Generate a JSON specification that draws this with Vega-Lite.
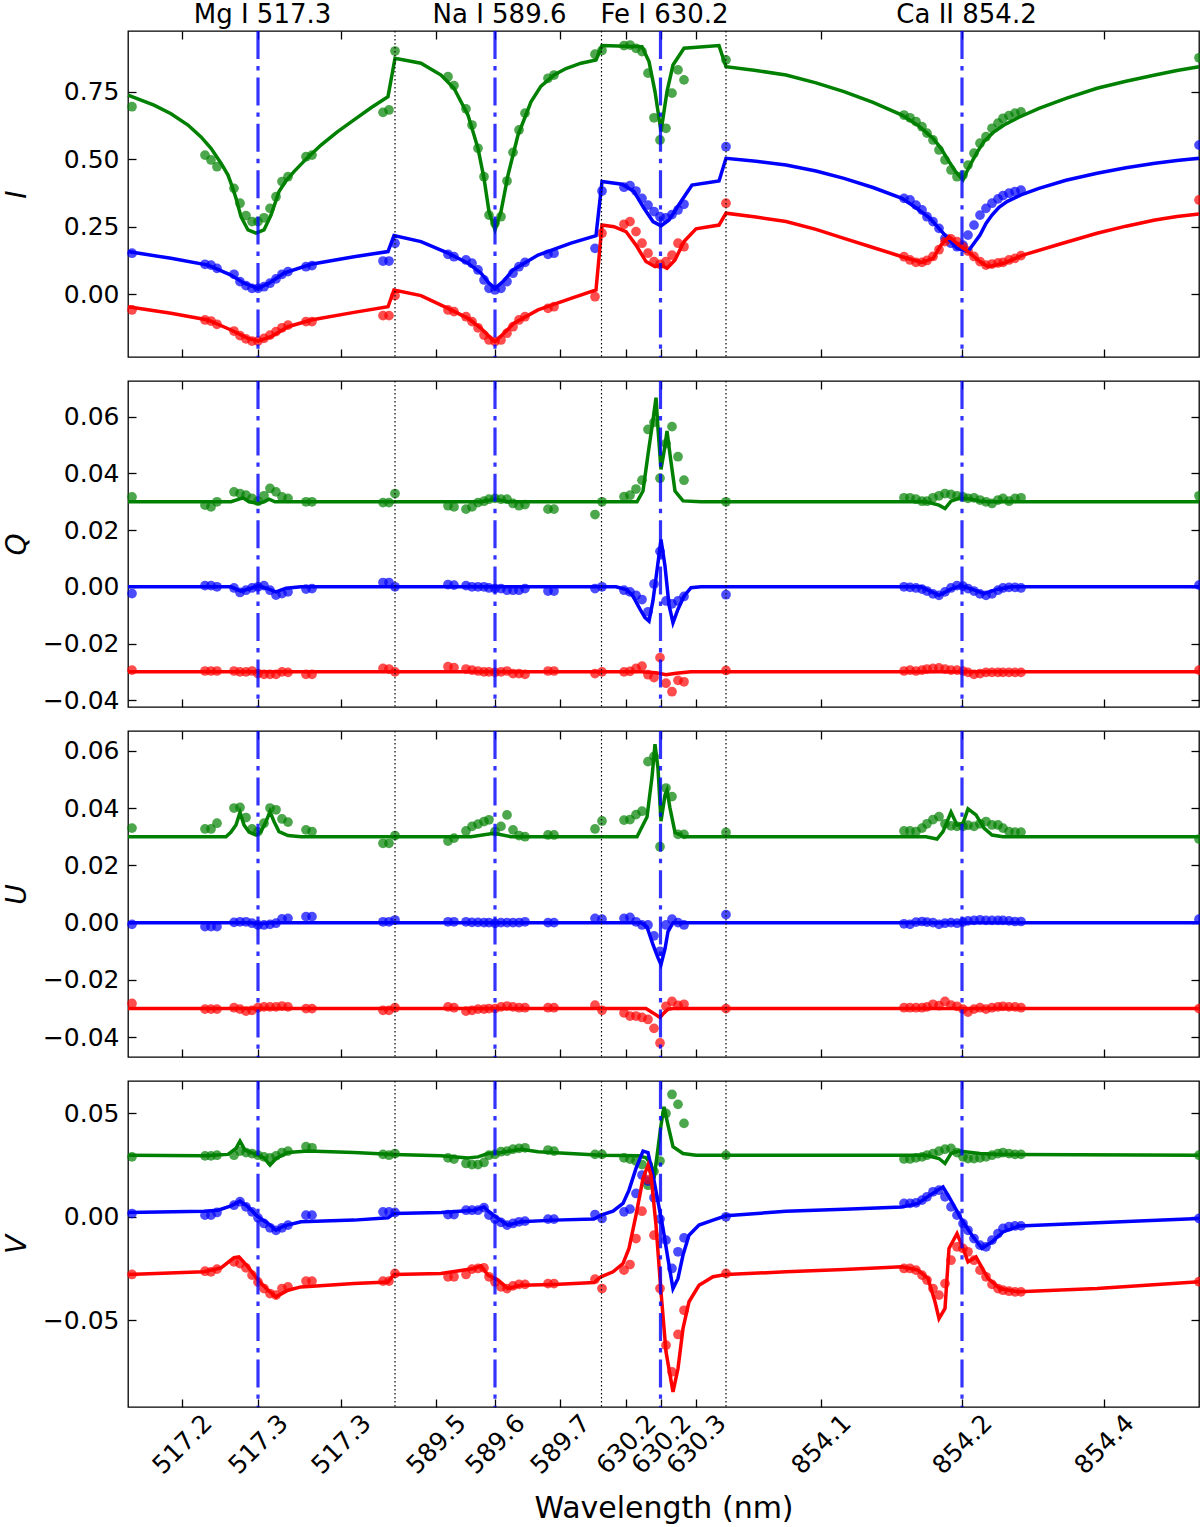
{
"$schema":"https://vega.github.io/schema/vega-lite/v6.json",
"padding":{"left":2,"top":0,"right":0,"bottom":0},
"bounds":"flush",
"spacing":24,
"config":{
 "view":{"stroke":"#000000","strokeWidth":1.3},
 "font":"DejaVu Sans",
 "axis":{"grid":false,"domain":false,"tickColor":"#000000","tickWidth":1.3,"tickSize":-8,"labelFont":"DejaVu Sans","labelFontSize":25,"labelColor":"#000000","titleFont":"DejaVu Sans","titleFontSize":30,"titleFontWeight":"normal","titleColor":"#000000","labelFlush":false,"labelOverlap":false,"labelBound":false}
},
"datasets":{
"obs":[
{"s":"I","c":"g","x":131,"v":0.694},{"s":"I","c":"g","x":204,"v":0.515},{"s":"I","c":"g","x":210,"v":0.497},{"s":"I","c":"g","x":216,"v":0.472},{"s":"I","c":"g","x":233,"v":0.392},{"s":"I","c":"g","x":239,"v":0.337},{"s":"I","c":"g","x":245,"v":0.291},{"s":"I","c":"g","x":251,"v":0.269},{"s":"I","c":"g","x":257,"v":0.269},{"s":"I","c":"g","x":263,"v":0.283},{"s":"I","c":"g","x":269,"v":0.318},{"s":"I","c":"g","x":275,"v":0.361},{"s":"I","c":"g","x":281,"v":0.417},{"s":"I","c":"g","x":287,"v":0.435},{"s":"I","c":"g","x":305,"v":0.509},{"s":"I","c":"g","x":311,"v":0.515},{"s":"I","c":"g","x":382,"v":0.673},{"s":"I","c":"g","x":388,"v":0.682},
{"s":"I","c":"g","x":394,"v":0.900},{"s":"I","c":"g","x":447,"v":0.805},{"s":"I","c":"g","x":453,"v":0.772},{"s":"I","c":"g","x":465,"v":0.686},{"s":"I","c":"g","x":471,"v":0.626},{"s":"I","c":"g","x":477,"v":0.540},{"s":"I","c":"g","x":483,"v":0.435},{"s":"I","c":"g","x":488,"v":0.293},{"s":"I","c":"g","x":494,"v":0.263},{"s":"I","c":"g","x":500,"v":0.287},{"s":"I","c":"g","x":506,"v":0.419},{"s":"I","c":"g","x":512,"v":0.525},{"s":"I","c":"g","x":518,"v":0.608},{"s":"I","c":"g","x":524,"v":0.670},{"s":"I","c":"g","x":547,"v":0.799},{"s":"I","c":"g","x":553,"v":0.811},{"s":"I","c":"g","x":594,"v":0.888},
{"s":"I","c":"g","x":601,"v":0.902},{"s":"I","c":"g","x":623,"v":0.920},{"s":"I","c":"g","x":629,"v":0.922},{"s":"I","c":"g","x":635,"v":0.910},{"s":"I","c":"g","x":641,"v":0.898},{"s":"I","c":"g","x":647,"v":0.818},{"s":"I","c":"g","x":653,"v":0.653},{"s":"I","c":"g","x":659,"v":0.571},{"s":"I","c":"g","x":665,"v":0.614},{"s":"I","c":"g","x":671,"v":0.744},{"s":"I","c":"g","x":677,"v":0.830},{"s":"I","c":"g","x":683,"v":0.793},
{"s":"I","c":"g","x":725,"v":0.867},{"s":"I","c":"g","x":903,"v":0.663},{"s":"I","c":"g","x":909,"v":0.653},{"s":"I","c":"g","x":915,"v":0.639},{"s":"I","c":"g","x":921,"v":0.620},{"s":"I","c":"g","x":926,"v":0.596},{"s":"I","c":"g","x":932,"v":0.571},{"s":"I","c":"g","x":938,"v":0.534},{"s":"I","c":"g","x":944,"v":0.497},{"s":"I","c":"g","x":950,"v":0.460},{"s":"I","c":"g","x":956,"v":0.435},{"s":"I","c":"g","x":962,"v":0.441},{"s":"I","c":"g","x":967,"v":0.478},{"s":"I","c":"g","x":973,"v":0.522},{"s":"I","c":"g","x":979,"v":0.559},{"s":"I","c":"g","x":985,"v":0.583},{"s":"I","c":"g","x":991,"v":0.614},{"s":"I","c":"g","x":997,"v":0.633},{"s":"I","c":"g","x":1002,"v":0.651},{"s":"I","c":"g","x":1008,"v":0.661},{"s":"I","c":"g","x":1014,"v":0.670},{"s":"I","c":"g","x":1020,"v":0.675},{"s":"I","c":"g","x":1198,"v":0.875},
{"s":"I","c":"b","x":131,"v":0.152},{"s":"I","c":"b","x":204,"v":0.111},{"s":"I","c":"b","x":210,"v":0.108},{"s":"I","c":"b","x":216,"v":0.096},{"s":"I","c":"b","x":233,"v":0.074},{"s":"I","c":"b","x":239,"v":0.047},{"s":"I","c":"b","x":245,"v":0.032},{"s":"I","c":"b","x":251,"v":0.022},{"s":"I","c":"b","x":257,"v":0.022},{"s":"I","c":"b","x":263,"v":0.028},{"s":"I","c":"b","x":269,"v":0.041},{"s":"I","c":"b","x":275,"v":0.057},{"s":"I","c":"b","x":281,"v":0.074},{"s":"I","c":"b","x":287,"v":0.084},{"s":"I","c":"b","x":305,"v":0.102},{"s":"I","c":"b","x":311,"v":0.106},{"s":"I","c":"b","x":382,"v":0.123},{"s":"I","c":"b","x":388,"v":0.123},
{"s":"I","c":"b","x":394,"v":0.189},{"s":"I","c":"b","x":447,"v":0.148},{"s":"I","c":"b","x":453,"v":0.139},{"s":"I","c":"b","x":465,"v":0.127},{"s":"I","c":"b","x":471,"v":0.115},{"s":"I","c":"b","x":477,"v":0.090},{"s":"I","c":"b","x":483,"v":0.053},{"s":"I","c":"b","x":488,"v":0.022},{"s":"I","c":"b","x":494,"v":0.016},{"s":"I","c":"b","x":500,"v":0.022},{"s":"I","c":"b","x":506,"v":0.047},{"s":"I","c":"b","x":512,"v":0.078},{"s":"I","c":"b","x":518,"v":0.102},{"s":"I","c":"b","x":524,"v":0.118},{"s":"I","c":"b","x":547,"v":0.148},{"s":"I","c":"b","x":553,"v":0.152},{"s":"I","c":"b","x":594,"v":0.170},
{"s":"I","c":"b","x":601,"v":0.382},{"s":"I","c":"b","x":623,"v":0.396},{"s":"I","c":"b","x":629,"v":0.402},{"s":"I","c":"b","x":635,"v":0.382},{"s":"I","c":"b","x":641,"v":0.355},{"s":"I","c":"b","x":647,"v":0.330},{"s":"I","c":"b","x":653,"v":0.306},{"s":"I","c":"b","x":659,"v":0.287},{"s":"I","c":"b","x":665,"v":0.283},{"s":"I","c":"b","x":671,"v":0.295},{"s":"I","c":"b","x":677,"v":0.312},{"s":"I","c":"b","x":683,"v":0.333},
{"s":"I","c":"b","x":725,"v":0.546},{"s":"I","c":"b","x":903,"v":0.355},{"s":"I","c":"b","x":909,"v":0.349},{"s":"I","c":"b","x":915,"v":0.330},{"s":"I","c":"b","x":921,"v":0.312},{"s":"I","c":"b","x":926,"v":0.287},{"s":"I","c":"b","x":932,"v":0.269},{"s":"I","c":"b","x":938,"v":0.244},{"s":"I","c":"b","x":944,"v":0.207},{"s":"I","c":"b","x":950,"v":0.189},{"s":"I","c":"b","x":956,"v":0.176},{"s":"I","c":"b","x":962,"v":0.182},{"s":"I","c":"b","x":967,"v":0.219},{"s":"I","c":"b","x":973,"v":0.256},{"s":"I","c":"b","x":979,"v":0.293},{"s":"I","c":"b","x":985,"v":0.318},{"s":"I","c":"b","x":991,"v":0.337},{"s":"I","c":"b","x":997,"v":0.353},{"s":"I","c":"b","x":1002,"v":0.365},{"s":"I","c":"b","x":1008,"v":0.374},{"s":"I","c":"b","x":1014,"v":0.380},{"s":"I","c":"b","x":1020,"v":0.385},{"s":"I","c":"b","x":1198,"v":0.552},
{"s":"I","c":"r","x":131,"v":-0.058},{"s":"I","c":"r","x":204,"v":-0.095},{"s":"I","c":"r","x":210,"v":-0.099},{"s":"I","c":"r","x":216,"v":-0.111},{"s":"I","c":"r","x":233,"v":-0.136},{"s":"I","c":"r","x":239,"v":-0.153},{"s":"I","c":"r","x":245,"v":-0.165},{"s":"I","c":"r","x":251,"v":-0.173},{"s":"I","c":"r","x":257,"v":-0.173},{"s":"I","c":"r","x":263,"v":-0.163},{"s":"I","c":"r","x":269,"v":-0.151},{"s":"I","c":"r","x":275,"v":-0.138},{"s":"I","c":"r","x":281,"v":-0.124},{"s":"I","c":"r","x":287,"v":-0.114},{"s":"I","c":"r","x":305,"v":-0.101},{"s":"I","c":"r","x":311,"v":-0.101},{"s":"I","c":"r","x":382,"v":-0.079},{"s":"I","c":"r","x":388,"v":-0.079},
{"s":"I","c":"r","x":394,"v":-0.005},{"s":"I","c":"r","x":447,"v":-0.058},{"s":"I","c":"r","x":453,"v":-0.064},{"s":"I","c":"r","x":465,"v":-0.083},{"s":"I","c":"r","x":471,"v":-0.101},{"s":"I","c":"r","x":477,"v":-0.124},{"s":"I","c":"r","x":483,"v":-0.151},{"s":"I","c":"r","x":488,"v":-0.169},{"s":"I","c":"r","x":494,"v":-0.175},{"s":"I","c":"r","x":500,"v":-0.169},{"s":"I","c":"r","x":506,"v":-0.144},{"s":"I","c":"r","x":512,"v":-0.120},{"s":"I","c":"r","x":518,"v":-0.095},{"s":"I","c":"r","x":524,"v":-0.083},{"s":"I","c":"r","x":547,"v":-0.052},{"s":"I","c":"r","x":553,"v":-0.046},{"s":"I","c":"r","x":594,"v":-0.009},
{"s":"I","c":"r","x":601,"v":0.226},{"s":"I","c":"r","x":623,"v":0.259},{"s":"I","c":"r","x":629,"v":0.269},{"s":"I","c":"r","x":635,"v":0.232},{"s":"I","c":"r","x":641,"v":0.189},{"s":"I","c":"r","x":647,"v":0.152},{"s":"I","c":"r","x":653,"v":0.121},{"s":"I","c":"r","x":659,"v":0.111},{"s":"I","c":"r","x":665,"v":0.121},{"s":"I","c":"r","x":671,"v":0.145},{"s":"I","c":"r","x":677,"v":0.189},{"s":"I","c":"r","x":683,"v":0.176},
{"s":"I","c":"r","x":725,"v":0.337},{"s":"I","c":"r","x":903,"v":0.139},{"s":"I","c":"r","x":909,"v":0.127},{"s":"I","c":"r","x":915,"v":0.118},{"s":"I","c":"r","x":921,"v":0.118},{"s":"I","c":"r","x":926,"v":0.125},{"s":"I","c":"r","x":932,"v":0.140},{"s":"I","c":"r","x":938,"v":0.165},{"s":"I","c":"r","x":944,"v":0.195},{"s":"I","c":"r","x":950,"v":0.205},{"s":"I","c":"r","x":956,"v":0.195},{"s":"I","c":"r","x":962,"v":0.175},{"s":"I","c":"r","x":967,"v":0.160},{"s":"I","c":"r","x":973,"v":0.140},{"s":"I","c":"r","x":979,"v":0.121},{"s":"I","c":"r","x":985,"v":0.108},{"s":"I","c":"r","x":991,"v":0.112},{"s":"I","c":"r","x":997,"v":0.116},{"s":"I","c":"r","x":1002,"v":0.118},{"s":"I","c":"r","x":1008,"v":0.127},{"s":"I","c":"r","x":1014,"v":0.133},{"s":"I","c":"r","x":1020,"v":0.143},{"s":"I","c":"r","x":1198,"v":0.349},

{"s":"Q","c":"g","x":131,"v":0.0317},{"s":"Q","c":"g","x":204,"v":0.0288},{"s":"Q","c":"g","x":210,"v":0.0282},{"s":"Q","c":"g","x":216,"v":0.0300},{"s":"Q","c":"g","x":233,"v":0.0335},{"s":"Q","c":"g","x":239,"v":0.0329},{"s":"Q","c":"g","x":245,"v":0.0323},{"s":"Q","c":"g","x":251,"v":0.0312},{"s":"Q","c":"g","x":257,"v":0.0302},{"s":"Q","c":"g","x":263,"v":0.0321},{"s":"Q","c":"g","x":269,"v":0.0347},{"s":"Q","c":"g","x":275,"v":0.0335},{"s":"Q","c":"g","x":281,"v":0.0317},{"s":"Q","c":"g","x":287,"v":0.0312},{"s":"Q","c":"g","x":305,"v":0.0300},{"s":"Q","c":"g","x":311,"v":0.0300},{"s":"Q","c":"g","x":382,"v":0.0297},{"s":"Q","c":"g","x":388,"v":0.0297},
{"s":"Q","c":"g","x":394,"v":0.0329},{"s":"Q","c":"g","x":447,"v":0.0286},{"s":"Q","c":"g","x":453,"v":0.0282},{"s":"Q","c":"g","x":465,"v":0.0274},{"s":"Q","c":"g","x":471,"v":0.0282},{"s":"Q","c":"g","x":477,"v":0.0297},{"s":"Q","c":"g","x":483,"v":0.0302},{"s":"Q","c":"g","x":488,"v":0.0309},{"s":"Q","c":"g","x":494,"v":0.0312},{"s":"Q","c":"g","x":500,"v":0.0309},{"s":"Q","c":"g","x":506,"v":0.0309},{"s":"Q","c":"g","x":512,"v":0.0294},{"s":"Q","c":"g","x":518,"v":0.0286},{"s":"Q","c":"g","x":524,"v":0.0290},{"s":"Q","c":"g","x":547,"v":0.0274},{"s":"Q","c":"g","x":553,"v":0.0274},{"s":"Q","c":"g","x":594,"v":0.0255},
{"s":"Q","c":"g","x":601,"v":0.0300},{"s":"Q","c":"g","x":623,"v":0.0318},{"s":"Q","c":"g","x":629,"v":0.0323},{"s":"Q","c":"g","x":635,"v":0.0345},{"s":"Q","c":"g","x":641,"v":0.0376},{"s":"Q","c":"g","x":647,"v":0.0555},{"s":"Q","c":"g","x":653,"v":0.0580},{"s":"Q","c":"g","x":659,"v":0.0383},{"s":"Q","c":"g","x":665,"v":0.0505},{"s":"Q","c":"g","x":671,"v":0.0565},{"s":"Q","c":"g","x":677,"v":0.0459},{"s":"Q","c":"g","x":683,"v":0.0376},
{"s":"Q","c":"g","x":725,"v":0.0300},{"s":"Q","c":"g","x":903,"v":0.0314},{"s":"Q","c":"g","x":909,"v":0.0314},{"s":"Q","c":"g","x":915,"v":0.0309},{"s":"Q","c":"g","x":921,"v":0.0302},{"s":"Q","c":"g","x":926,"v":0.0302},{"s":"Q","c":"g","x":932,"v":0.0314},{"s":"Q","c":"g","x":938,"v":0.0321},{"s":"Q","c":"g","x":944,"v":0.0329},{"s":"Q","c":"g","x":950,"v":0.0326},{"s":"Q","c":"g","x":956,"v":0.0321},{"s":"Q","c":"g","x":962,"v":0.0317},{"s":"Q","c":"g","x":967,"v":0.0312},{"s":"Q","c":"g","x":973,"v":0.0314},{"s":"Q","c":"g","x":979,"v":0.0306},{"s":"Q","c":"g","x":985,"v":0.0300},{"s":"Q","c":"g","x":991,"v":0.0294},{"s":"Q","c":"g","x":997,"v":0.0306},{"s":"Q","c":"g","x":1002,"v":0.0312},{"s":"Q","c":"g","x":1008,"v":0.0302},{"s":"Q","c":"g","x":1014,"v":0.0312},{"s":"Q","c":"g","x":1020,"v":0.0314},{"s":"Q","c":"g","x":1198,"v":0.0321},
{"s":"Q","c":"b","x":131,"v":-0.0024},{"s":"Q","c":"b","x":204,"v":0.0004},{"s":"Q","c":"b","x":210,"v":0.0004},{"s":"Q","c":"b","x":216,"v":0.0},{"s":"Q","c":"b","x":233,"v":-0.0004},{"s":"Q","c":"b","x":239,"v":-0.0020},{"s":"Q","c":"b","x":245,"v":-0.0012},{"s":"Q","c":"b","x":251,"v":-0.0004},{"s":"Q","c":"b","x":257,"v":0.0},{"s":"Q","c":"b","x":263,"v":0.0004},{"s":"Q","c":"b","x":269,"v":-0.0012},{"s":"Q","c":"b","x":275,"v":-0.0029},{"s":"Q","c":"b","x":281,"v":-0.0024},{"s":"Q","c":"b","x":287,"v":-0.0018},{"s":"Q","c":"b","x":305,"v":-0.0008},{"s":"Q","c":"b","x":311,"v":-0.0006},{"s":"Q","c":"b","x":382,"v":0.0015},{"s":"Q","c":"b","x":388,"v":0.0015},
{"s":"Q","c":"b","x":394,"v":0.0},{"s":"Q","c":"b","x":447,"v":0.0008},{"s":"Q","c":"b","x":453,"v":0.0006},{"s":"Q","c":"b","x":465,"v":0.0004},{"s":"Q","c":"b","x":471,"v":0.0},{"s":"Q","c":"b","x":477,"v":0.0},{"s":"Q","c":"b","x":483,"v":0.0},{"s":"Q","c":"b","x":488,"v":-0.0004},{"s":"Q","c":"b","x":494,"v":-0.0006},{"s":"Q","c":"b","x":500,"v":-0.0006},{"s":"Q","c":"b","x":506,"v":-0.0012},{"s":"Q","c":"b","x":512,"v":-0.0012},{"s":"Q","c":"b","x":518,"v":-0.0012},{"s":"Q","c":"b","x":524,"v":-0.0006},{"s":"Q","c":"b","x":547,"v":-0.0015},{"s":"Q","c":"b","x":553,"v":-0.0015},{"s":"Q","c":"b","x":594,"v":-0.0006},
{"s":"Q","c":"b","x":601,"v":0.0},{"s":"Q","c":"b","x":623,"v":-0.0012},{"s":"Q","c":"b","x":629,"v":-0.0018},{"s":"Q","c":"b","x":635,"v":-0.0030},{"s":"Q","c":"b","x":641,"v":-0.0045},{"s":"Q","c":"b","x":647,"v":-0.0088},{"s":"Q","c":"b","x":653,"v":0.0010},{"s":"Q","c":"b","x":659,"v":0.0125},{"s":"Q","c":"b","x":665,"v":-0.0050},{"s":"Q","c":"b","x":671,"v":-0.0060},{"s":"Q","c":"b","x":677,"v":-0.0050},{"s":"Q","c":"b","x":683,"v":-0.0034},
{"s":"Q","c":"b","x":725,"v":-0.0028},{"s":"Q","c":"b","x":903,"v":0.0},{"s":"Q","c":"b","x":909,"v":-0.0002},{"s":"Q","c":"b","x":915,"v":-0.0004},{"s":"Q","c":"b","x":921,"v":-0.0008},{"s":"Q","c":"b","x":926,"v":-0.0015},{"s":"Q","c":"b","x":932,"v":-0.0025},{"s":"Q","c":"b","x":938,"v":-0.0030},{"s":"Q","c":"b","x":944,"v":-0.0018},{"s":"Q","c":"b","x":950,"v":-0.0004},{"s":"Q","c":"b","x":956,"v":0.0004},{"s":"Q","c":"b","x":962,"v":0.0002},{"s":"Q","c":"b","x":967,"v":-0.0006},{"s":"Q","c":"b","x":973,"v":-0.0015},{"s":"Q","c":"b","x":979,"v":-0.0025},{"s":"Q","c":"b","x":985,"v":-0.0030},{"s":"Q","c":"b","x":991,"v":-0.0025},{"s":"Q","c":"b","x":997,"v":-0.0012},{"s":"Q","c":"b","x":1002,"v":-0.0004},{"s":"Q","c":"b","x":1008,"v":-0.0002},{"s":"Q","c":"b","x":1014,"v":-0.0002},{"s":"Q","c":"b","x":1020,"v":-0.0004},{"s":"Q","c":"b","x":1198,"v":0.0006},
{"s":"Q","c":"r","x":131,"v":-0.0294},{"s":"Q","c":"r","x":204,"v":-0.0297},{"s":"Q","c":"r","x":210,"v":-0.0297},{"s":"Q","c":"r","x":216,"v":-0.0297},{"s":"Q","c":"r","x":233,"v":-0.0297},{"s":"Q","c":"r","x":239,"v":-0.0300},{"s":"Q","c":"r","x":245,"v":-0.0300},{"s":"Q","c":"r","x":251,"v":-0.0297},{"s":"Q","c":"r","x":257,"v":-0.0306},{"s":"Q","c":"r","x":263,"v":-0.0309},{"s":"Q","c":"r","x":269,"v":-0.0309},{"s":"Q","c":"r","x":275,"v":-0.0309},{"s":"Q","c":"r","x":281,"v":-0.0300},{"s":"Q","c":"r","x":287,"v":-0.0302},{"s":"Q","c":"r","x":305,"v":-0.0309},{"s":"Q","c":"r","x":311,"v":-0.0309},{"s":"Q","c":"r","x":382,"v":-0.0288},{"s":"Q","c":"r","x":388,"v":-0.0290},
{"s":"Q","c":"r","x":394,"v":-0.0300},{"s":"Q","c":"r","x":447,"v":-0.0282},{"s":"Q","c":"r","x":453,"v":-0.0285},{"s":"Q","c":"r","x":465,"v":-0.0290},{"s":"Q","c":"r","x":471,"v":-0.0294},{"s":"Q","c":"r","x":477,"v":-0.0297},{"s":"Q","c":"r","x":483,"v":-0.0300},{"s":"Q","c":"r","x":488,"v":-0.0300},{"s":"Q","c":"r","x":494,"v":-0.0302},{"s":"Q","c":"r","x":500,"v":-0.0300},{"s":"Q","c":"r","x":506,"v":-0.0297},{"s":"Q","c":"r","x":512,"v":-0.0306},{"s":"Q","c":"r","x":518,"v":-0.0306},{"s":"Q","c":"r","x":524,"v":-0.0309},{"s":"Q","c":"r","x":547,"v":-0.0297},{"s":"Q","c":"r","x":553,"v":-0.0297},{"s":"Q","c":"r","x":594,"v":-0.0306},
{"s":"Q","c":"r","x":601,"v":-0.0300},{"s":"Q","c":"r","x":623,"v":-0.0300},{"s":"Q","c":"r","x":629,"v":-0.0298},{"s":"Q","c":"r","x":635,"v":-0.0288},{"s":"Q","c":"r","x":641,"v":-0.0280},{"s":"Q","c":"r","x":647,"v":-0.0310},{"s":"Q","c":"r","x":653,"v":-0.0320},{"s":"Q","c":"r","x":659,"v":-0.0250},{"s":"Q","c":"r","x":665,"v":-0.0340},{"s":"Q","c":"r","x":671,"v":-0.0370},{"s":"Q","c":"r","x":677,"v":-0.0330},{"s":"Q","c":"r","x":683,"v":-0.0335},
{"s":"Q","c":"r","x":725,"v":-0.0295},{"s":"Q","c":"r","x":903,"v":-0.0297},{"s":"Q","c":"r","x":909,"v":-0.0294},{"s":"Q","c":"r","x":915,"v":-0.0297},{"s":"Q","c":"r","x":921,"v":-0.0294},{"s":"Q","c":"r","x":926,"v":-0.0290},{"s":"Q","c":"r","x":932,"v":-0.0288},{"s":"Q","c":"r","x":938,"v":-0.0286},{"s":"Q","c":"r","x":944,"v":-0.0290},{"s":"Q","c":"r","x":950,"v":-0.0294},{"s":"Q","c":"r","x":956,"v":-0.0294},{"s":"Q","c":"r","x":962,"v":-0.0297},{"s":"Q","c":"r","x":967,"v":-0.0302},{"s":"Q","c":"r","x":973,"v":-0.0309},{"s":"Q","c":"r","x":979,"v":-0.0306},{"s":"Q","c":"r","x":985,"v":-0.0302},{"s":"Q","c":"r","x":991,"v":-0.0302},{"s":"Q","c":"r","x":997,"v":-0.0302},{"s":"Q","c":"r","x":1002,"v":-0.0302},{"s":"Q","c":"r","x":1008,"v":-0.0302},{"s":"Q","c":"r","x":1014,"v":-0.0302},{"s":"Q","c":"r","x":1020,"v":-0.0302},{"s":"Q","c":"r","x":1198,"v":-0.0294},

{"s":"U","c":"g","x":131,"v":0.0330},{"s":"U","c":"g","x":204,"v":0.0327},{"s":"U","c":"g","x":210,"v":0.0327},{"s":"U","c":"g","x":216,"v":0.0347},{"s":"U","c":"g","x":233,"v":0.0400},{"s":"U","c":"g","x":239,"v":0.0402},{"s":"U","c":"g","x":245,"v":0.0367},{"s":"U","c":"g","x":251,"v":0.0327},{"s":"U","c":"g","x":257,"v":0.0318},{"s":"U","c":"g","x":263,"v":0.0347},{"s":"U","c":"g","x":269,"v":0.0400},{"s":"U","c":"g","x":275,"v":0.0394},{"s":"U","c":"g","x":281,"v":0.0362},{"s":"U","c":"g","x":287,"v":0.0351},{"s":"U","c":"g","x":305,"v":0.0324},{"s":"U","c":"g","x":311,"v":0.0318},{"s":"U","c":"g","x":382,"v":0.0277},{"s":"U","c":"g","x":388,"v":0.0277},
{"s":"U","c":"g","x":394,"v":0.0304},{"s":"U","c":"g","x":447,"v":0.0285},{"s":"U","c":"g","x":453,"v":0.0295},{"s":"U","c":"g","x":465,"v":0.0320},{"s":"U","c":"g","x":471,"v":0.0336},{"s":"U","c":"g","x":477,"v":0.0344},{"s":"U","c":"g","x":483,"v":0.0353},{"s":"U","c":"g","x":488,"v":0.0359},{"s":"U","c":"g","x":494,"v":0.0318},{"s":"U","c":"g","x":500,"v":0.0336},{"s":"U","c":"g","x":506,"v":0.0376},{"s":"U","c":"g","x":512,"v":0.0324},{"s":"U","c":"g","x":518,"v":0.0304},{"s":"U","c":"g","x":524,"v":0.0300},{"s":"U","c":"g","x":547,"v":0.0306},{"s":"U","c":"g","x":553,"v":0.0306},{"s":"U","c":"g","x":594,"v":0.0327},
{"s":"U","c":"g","x":601,"v":0.0355},{"s":"U","c":"g","x":623,"v":0.0358},{"s":"U","c":"g","x":629,"v":0.0360},{"s":"U","c":"g","x":635,"v":0.0377},{"s":"U","c":"g","x":641,"v":0.0389},{"s":"U","c":"g","x":647,"v":0.0562},{"s":"U","c":"g","x":653,"v":0.0580},{"s":"U","c":"g","x":659,"v":0.0265},{"s":"U","c":"g","x":665,"v":0.0470},{"s":"U","c":"g","x":671,"v":0.0440},{"s":"U","c":"g","x":677,"v":0.0308},{"s":"U","c":"g","x":683,"v":0.0308},
{"s":"U","c":"g","x":725,"v":0.0315},{"s":"U","c":"g","x":903,"v":0.0320},{"s":"U","c":"g","x":909,"v":0.0320},{"s":"U","c":"g","x":915,"v":0.0318},{"s":"U","c":"g","x":921,"v":0.0330},{"s":"U","c":"g","x":926,"v":0.0345},{"s":"U","c":"g","x":932,"v":0.0360},{"s":"U","c":"g","x":938,"v":0.0370},{"s":"U","c":"g","x":944,"v":0.0345},{"s":"U","c":"g","x":950,"v":0.0338},{"s":"U","c":"g","x":956,"v":0.0336},{"s":"U","c":"g","x":962,"v":0.0336},{"s":"U","c":"g","x":967,"v":0.0340},{"s":"U","c":"g","x":973,"v":0.0336},{"s":"U","c":"g","x":979,"v":0.0345},{"s":"U","c":"g","x":985,"v":0.0353},{"s":"U","c":"g","x":991,"v":0.0341},{"s":"U","c":"g","x":997,"v":0.0341},{"s":"U","c":"g","x":1002,"v":0.0330},{"s":"U","c":"g","x":1008,"v":0.0318},{"s":"U","c":"g","x":1014,"v":0.0316},{"s":"U","c":"g","x":1020,"v":0.0316},{"s":"U","c":"g","x":1198,"v":0.0292},
{"s":"U","c":"b","x":131,"v":-0.0006},{"s":"U","c":"b","x":204,"v":-0.0014},{"s":"U","c":"b","x":210,"v":-0.0014},{"s":"U","c":"b","x":216,"v":-0.0014},{"s":"U","c":"b","x":233,"v":0.0001},{"s":"U","c":"b","x":239,"v":0.0003},{"s":"U","c":"b","x":245,"v":0.0003},{"s":"U","c":"b","x":251,"v":-0.0002},{"s":"U","c":"b","x":257,"v":-0.0008},{"s":"U","c":"b","x":263,"v":-0.0008},{"s":"U","c":"b","x":269,"v":-0.0006},{"s":"U","c":"b","x":275,"v":-0.0002},{"s":"U","c":"b","x":281,"v":0.0013},{"s":"U","c":"b","x":287,"v":0.0015},{"s":"U","c":"b","x":305,"v":0.0021},{"s":"U","c":"b","x":311,"v":0.0021},{"s":"U","c":"b","x":382,"v":0.0003},{"s":"U","c":"b","x":388,"v":0.0003},
{"s":"U","c":"b","x":394,"v":0.0009},{"s":"U","c":"b","x":447,"v":0.0003},{"s":"U","c":"b","x":453,"v":0.0003},{"s":"U","c":"b","x":465,"v":0.0003},{"s":"U","c":"b","x":471,"v":0.0001},{"s":"U","c":"b","x":477,"v":0.0001},{"s":"U","c":"b","x":483,"v":0.0},{"s":"U","c":"b","x":488,"v":0.0},{"s":"U","c":"b","x":494,"v":-0.0002},{"s":"U","c":"b","x":500,"v":0.0},{"s":"U","c":"b","x":506,"v":0.0},{"s":"U","c":"b","x":512,"v":0.0},{"s":"U","c":"b","x":518,"v":0.0},{"s":"U","c":"b","x":524,"v":0.0003},{"s":"U","c":"b","x":547,"v":0.0},{"s":"U","c":"b","x":553,"v":0.0},{"s":"U","c":"b","x":594,"v":0.0015},
{"s":"U","c":"b","x":601,"v":0.0012},{"s":"U","c":"b","x":623,"v":0.0015},{"s":"U","c":"b","x":629,"v":0.0018},{"s":"U","c":"b","x":635,"v":0.0003},{"s":"U","c":"b","x":641,"v":-0.0008},{"s":"U","c":"b","x":647,"v":-0.0008},{"s":"U","c":"b","x":653,"v":-0.0046},{"s":"U","c":"b","x":659,"v":-0.0100},{"s":"U","c":"b","x":665,"v":-0.0008},{"s":"U","c":"b","x":671,"v":0.0012},{"s":"U","c":"b","x":677,"v":0.0},{"s":"U","c":"b","x":683,"v":-0.0008},
{"s":"U","c":"b","x":725,"v":0.0028},{"s":"U","c":"b","x":903,"v":-0.0004},{"s":"U","c":"b","x":909,"v":-0.0006},{"s":"U","c":"b","x":915,"v":0.0002},{"s":"U","c":"b","x":921,"v":0.0004},{"s":"U","c":"b","x":926,"v":0.0002},{"s":"U","c":"b","x":932,"v":0.0},{"s":"U","c":"b","x":938,"v":-0.0006},{"s":"U","c":"b","x":944,"v":-0.0002},{"s":"U","c":"b","x":950,"v":0.0},{"s":"U","c":"b","x":956,"v":-0.0002},{"s":"U","c":"b","x":962,"v":0.0002},{"s":"U","c":"b","x":967,"v":0.0006},{"s":"U","c":"b","x":973,"v":0.0008},{"s":"U","c":"b","x":979,"v":0.0010},{"s":"U","c":"b","x":985,"v":0.0008},{"s":"U","c":"b","x":991,"v":0.0008},{"s":"U","c":"b","x":997,"v":0.0008},{"s":"U","c":"b","x":1002,"v":0.0008},{"s":"U","c":"b","x":1008,"v":0.0006},{"s":"U","c":"b","x":1014,"v":0.0004},{"s":"U","c":"b","x":1020,"v":0.0004},{"s":"U","c":"b","x":1198,"v":0.0012},
{"s":"U","c":"r","x":131,"v":-0.0282},{"s":"U","c":"r","x":204,"v":-0.0302},{"s":"U","c":"r","x":210,"v":-0.0302},{"s":"U","c":"r","x":216,"v":-0.0302},{"s":"U","c":"r","x":233,"v":-0.0297},{"s":"U","c":"r","x":239,"v":-0.0302},{"s":"U","c":"r","x":245,"v":-0.0309},{"s":"U","c":"r","x":251,"v":-0.0306},{"s":"U","c":"r","x":257,"v":-0.0297},{"s":"U","c":"r","x":263,"v":-0.0294},{"s":"U","c":"r","x":269,"v":-0.0294},{"s":"U","c":"r","x":275,"v":-0.0294},{"s":"U","c":"r","x":281,"v":-0.0291},{"s":"U","c":"r","x":287,"v":-0.0294},{"s":"U","c":"r","x":305,"v":-0.0300},{"s":"U","c":"r","x":311,"v":-0.0300},{"s":"U","c":"r","x":382,"v":-0.0306},{"s":"U","c":"r","x":388,"v":-0.0306},
{"s":"U","c":"r","x":394,"v":-0.0297},{"s":"U","c":"r","x":447,"v":-0.0294},{"s":"U","c":"r","x":453,"v":-0.0297},{"s":"U","c":"r","x":465,"v":-0.0309},{"s":"U","c":"r","x":471,"v":-0.0306},{"s":"U","c":"r","x":477,"v":-0.0302},{"s":"U","c":"r","x":483,"v":-0.0302},{"s":"U","c":"r","x":488,"v":-0.0300},{"s":"U","c":"r","x":494,"v":-0.0300},{"s":"U","c":"r","x":500,"v":-0.0294},{"s":"U","c":"r","x":506,"v":-0.0291},{"s":"U","c":"r","x":512,"v":-0.0294},{"s":"U","c":"r","x":518,"v":-0.0297},{"s":"U","c":"r","x":524,"v":-0.0297},{"s":"U","c":"r","x":547,"v":-0.0297},{"s":"U","c":"r","x":553,"v":-0.0297},{"s":"U","c":"r","x":594,"v":-0.0288},
{"s":"U","c":"r","x":601,"v":-0.0306},{"s":"U","c":"r","x":623,"v":-0.0315},{"s":"U","c":"r","x":629,"v":-0.0326},{"s":"U","c":"r","x":635,"v":-0.0326},{"s":"U","c":"r","x":641,"v":-0.0331},{"s":"U","c":"r","x":647,"v":-0.0338},{"s":"U","c":"r","x":653,"v":-0.0369},{"s":"U","c":"r","x":659,"v":-0.0420},{"s":"U","c":"r","x":665,"v":-0.0292},{"s":"U","c":"r","x":671,"v":-0.0275},{"s":"U","c":"r","x":677,"v":-0.0289},{"s":"U","c":"r","x":683,"v":-0.0285},
{"s":"U","c":"r","x":725,"v":-0.0300},{"s":"U","c":"r","x":903,"v":-0.0297},{"s":"U","c":"r","x":909,"v":-0.0297},{"s":"U","c":"r","x":915,"v":-0.0297},{"s":"U","c":"r","x":921,"v":-0.0297},{"s":"U","c":"r","x":926,"v":-0.0294},{"s":"U","c":"r","x":932,"v":-0.0285},{"s":"U","c":"r","x":938,"v":-0.0290},{"s":"U","c":"r","x":944,"v":-0.0275},{"s":"U","c":"r","x":950,"v":-0.0288},{"s":"U","c":"r","x":956,"v":-0.0292},{"s":"U","c":"r","x":962,"v":-0.0302},{"s":"U","c":"r","x":967,"v":-0.0312},{"s":"U","c":"r","x":973,"v":-0.0302},{"s":"U","c":"r","x":979,"v":-0.0297},{"s":"U","c":"r","x":985,"v":-0.0302},{"s":"U","c":"r","x":991,"v":-0.0297},{"s":"U","c":"r","x":997,"v":-0.0294},{"s":"U","c":"r","x":1002,"v":-0.0292},{"s":"U","c":"r","x":1008,"v":-0.0294},{"s":"U","c":"r","x":1014,"v":-0.0294},{"s":"U","c":"r","x":1020,"v":-0.0297},{"s":"U","c":"r","x":1198,"v":-0.0300},

{"s":"V","c":"g","x":131,"v":0.0290},{"s":"V","c":"g","x":204,"v":0.0295},{"s":"V","c":"g","x":210,"v":0.0295},{"s":"V","c":"g","x":216,"v":0.0298},{"s":"V","c":"g","x":233,"v":0.0298},{"s":"V","c":"g","x":239,"v":0.0318},{"s":"V","c":"g","x":245,"v":0.0311},{"s":"V","c":"g","x":251,"v":0.0306},{"s":"V","c":"g","x":257,"v":0.0298},{"s":"V","c":"g","x":263,"v":0.0290},{"s":"V","c":"g","x":269,"v":0.0285},{"s":"V","c":"g","x":275,"v":0.0295},{"s":"V","c":"g","x":281,"v":0.0311},{"s":"V","c":"g","x":287,"v":0.0318},{"s":"V","c":"g","x":305,"v":0.0339},{"s":"V","c":"g","x":311,"v":0.0334},{"s":"V","c":"g","x":382,"v":0.0302},{"s":"V","c":"g","x":388,"v":0.0298},
{"s":"V","c":"g","x":394,"v":0.0306},{"s":"V","c":"g","x":447,"v":0.0285},{"s":"V","c":"g","x":453,"v":0.0279},{"s":"V","c":"g","x":465,"v":0.0258},{"s":"V","c":"g","x":471,"v":0.0253},{"s":"V","c":"g","x":477,"v":0.0253},{"s":"V","c":"g","x":483,"v":0.0263},{"s":"V","c":"g","x":488,"v":0.0298},{"s":"V","c":"g","x":494,"v":0.0302},{"s":"V","c":"g","x":500,"v":0.0315},{"s":"V","c":"g","x":506,"v":0.0318},{"s":"V","c":"g","x":512,"v":0.0327},{"s":"V","c":"g","x":518,"v":0.0331},{"s":"V","c":"g","x":524,"v":0.0334},{"s":"V","c":"g","x":547,"v":0.0323},{"s":"V","c":"g","x":553,"v":0.0318},{"s":"V","c":"g","x":594,"v":0.0302},
{"s":"V","c":"g","x":601,"v":0.0302},{"s":"V","c":"g","x":623,"v":0.0285},{"s":"V","c":"g","x":629,"v":0.0279},{"s":"V","c":"g","x":635,"v":0.0270},{"s":"V","c":"g","x":641,"v":0.0253},{"s":"V","c":"g","x":647,"v":0.0153},{"s":"V","c":"g","x":653,"v":0.0220},{"s":"V","c":"g","x":659,"v":0.0270},{"s":"V","c":"g","x":665,"v":0.0500},{"s":"V","c":"g","x":671,"v":0.0592},{"s":"V","c":"g","x":677,"v":0.0544},{"s":"V","c":"g","x":683,"v":0.0452},
{"s":"V","c":"g","x":725,"v":0.0298},{"s":"V","c":"g","x":903,"v":0.0280},{"s":"V","c":"g","x":909,"v":0.0280},{"s":"V","c":"g","x":915,"v":0.0285},{"s":"V","c":"g","x":921,"v":0.0290},{"s":"V","c":"g","x":926,"v":0.0298},{"s":"V","c":"g","x":932,"v":0.0306},{"s":"V","c":"g","x":938,"v":0.0318},{"s":"V","c":"g","x":944,"v":0.0327},{"s":"V","c":"g","x":950,"v":0.0331},{"s":"V","c":"g","x":956,"v":0.0311},{"s":"V","c":"g","x":962,"v":0.0290},{"s":"V","c":"g","x":967,"v":0.0282},{"s":"V","c":"g","x":973,"v":0.0282},{"s":"V","c":"g","x":979,"v":0.0285},{"s":"V","c":"g","x":985,"v":0.0290},{"s":"V","c":"g","x":991,"v":0.0298},{"s":"V","c":"g","x":997,"v":0.0306},{"s":"V","c":"g","x":1002,"v":0.0311},{"s":"V","c":"g","x":1008,"v":0.0306},{"s":"V","c":"g","x":1014,"v":0.0302},{"s":"V","c":"g","x":1020,"v":0.0302},{"s":"V","c":"g","x":1198,"v":0.0298},
{"s":"V","c":"b","x":131,"v":0.0016},{"s":"V","c":"b","x":204,"v":0.0008},{"s":"V","c":"b","x":210,"v":0.0008},{"s":"V","c":"b","x":216,"v":0.0021},{"s":"V","c":"b","x":233,"v":0.0056},{"s":"V","c":"b","x":239,"v":0.0073},{"s":"V","c":"b","x":245,"v":0.0048},{"s":"V","c":"b","x":251,"v":0.0024},{"s":"V","c":"b","x":257,"v":-0.0005},{"s":"V","c":"b","x":263,"v":-0.0032},{"s":"V","c":"b","x":269,"v":-0.0053},{"s":"V","c":"b","x":275,"v":-0.0065},{"s":"V","c":"b","x":281,"v":-0.0053},{"s":"V","c":"b","x":287,"v":-0.0040},{"s":"V","c":"b","x":305,"v":0.0008},{"s":"V","c":"b","x":311,"v":0.0008},{"s":"V","c":"b","x":382,"v":0.0024},{"s":"V","c":"b","x":388,"v":0.0024},
{"s":"V","c":"b","x":394,"v":0.0021},{"s":"V","c":"b","x":447,"v":0.0011},{"s":"V","c":"b","x":453,"v":0.0011},{"s":"V","c":"b","x":465,"v":0.0032},{"s":"V","c":"b","x":471,"v":0.0032},{"s":"V","c":"b","x":477,"v":0.0032},{"s":"V","c":"b","x":483,"v":0.0044},{"s":"V","c":"b","x":488,"v":0.0008},{"s":"V","c":"b","x":494,"v":-0.0011},{"s":"V","c":"b","x":500,"v":-0.0027},{"s":"V","c":"b","x":506,"v":-0.0040},{"s":"V","c":"b","x":512,"v":-0.0032},{"s":"V","c":"b","x":518,"v":-0.0024},{"s":"V","c":"b","x":524,"v":-0.0021},{"s":"V","c":"b","x":547,"v":-0.0011},{"s":"V","c":"b","x":553,"v":-0.0011},{"s":"V","c":"b","x":594,"v":0.0011},
{"s":"V","c":"b","x":601,"v":-0.0008},{"s":"V","c":"b","x":623,"v":0.0024},{"s":"V","c":"b","x":629,"v":0.0037},{"s":"V","c":"b","x":635,"v":0.0113},{"s":"V","c":"b","x":641,"v":0.0202},{"s":"V","c":"b","x":647,"v":0.0173},{"s":"V","c":"b","x":653,"v":0.0092},{"s":"V","c":"b","x":659,"v":-0.0011},{"s":"V","c":"b","x":665,"v":-0.0113},{"s":"V","c":"b","x":671,"v":-0.0250},{"s":"V","c":"b","x":677,"v":-0.0169},{"s":"V","c":"b","x":683,"v":-0.0102},
{"s":"V","c":"b","x":725,"v":0.0},{"s":"V","c":"b","x":903,"v":0.0065},{"s":"V","c":"b","x":909,"v":0.0065},{"s":"V","c":"b","x":915,"v":0.0068},{"s":"V","c":"b","x":921,"v":0.0081},{"s":"V","c":"b","x":926,"v":0.0097},{"s":"V","c":"b","x":932,"v":0.0121},{"s":"V","c":"b","x":938,"v":0.0129},{"s":"V","c":"b","x":944,"v":0.0097},{"s":"V","c":"b","x":950,"v":0.0048},{"s":"V","c":"b","x":956,"v":0.0008},{"s":"V","c":"b","x":962,"v":-0.0032},{"s":"V","c":"b","x":967,"v":-0.0065},{"s":"V","c":"b","x":973,"v":-0.0105},{"s":"V","c":"b","x":979,"v":-0.0137},{"s":"V","c":"b","x":985,"v":-0.0145},{"s":"V","c":"b","x":991,"v":-0.0113},{"s":"V","c":"b","x":997,"v":-0.0081},{"s":"V","c":"b","x":1002,"v":-0.0056},{"s":"V","c":"b","x":1008,"v":-0.0048},{"s":"V","c":"b","x":1014,"v":-0.0044},{"s":"V","c":"b","x":1020,"v":-0.0044},{"s":"V","c":"b","x":1198,"v":-0.0008},
{"s":"V","c":"r","x":131,"v":-0.0279},{"s":"V","c":"r","x":204,"v":-0.0263},{"s":"V","c":"r","x":210,"v":-0.0266},{"s":"V","c":"r","x":216,"v":-0.0253},{"s":"V","c":"r","x":233,"v":-0.0218},{"s":"V","c":"r","x":239,"v":-0.0226},{"s":"V","c":"r","x":245,"v":-0.0247},{"s":"V","c":"r","x":251,"v":-0.0282},{"s":"V","c":"r","x":257,"v":-0.0315},{"s":"V","c":"r","x":263,"v":-0.0347},{"s":"V","c":"r","x":269,"v":-0.0371},{"s":"V","c":"r","x":275,"v":-0.0379},{"s":"V","c":"r","x":281,"v":-0.0347},{"s":"V","c":"r","x":287,"v":-0.0339},{"s":"V","c":"r","x":305,"v":-0.0311},{"s":"V","c":"r","x":311,"v":-0.0311},{"s":"V","c":"r","x":382,"v":-0.0311},{"s":"V","c":"r","x":388,"v":-0.0311},
{"s":"V","c":"r","x":394,"v":-0.0274},{"s":"V","c":"r","x":447,"v":-0.0290},{"s":"V","c":"r","x":453,"v":-0.0290},{"s":"V","c":"r","x":465,"v":-0.0279},{"s":"V","c":"r","x":471,"v":-0.0253},{"s":"V","c":"r","x":477,"v":-0.0250},{"s":"V","c":"r","x":483,"v":-0.0247},{"s":"V","c":"r","x":488,"v":-0.0290},{"s":"V","c":"r","x":494,"v":-0.0315},{"s":"V","c":"r","x":500,"v":-0.0339},{"s":"V","c":"r","x":506,"v":-0.0347},{"s":"V","c":"r","x":512,"v":-0.0334},{"s":"V","c":"r","x":518,"v":-0.0327},{"s":"V","c":"r","x":524,"v":-0.0327},{"s":"V","c":"r","x":547,"v":-0.0323},{"s":"V","c":"r","x":553,"v":-0.0323},{"s":"V","c":"r","x":594,"v":-0.0302},
{"s":"V","c":"r","x":601,"v":-0.0347},{"s":"V","c":"r","x":623,"v":-0.0258},{"s":"V","c":"r","x":629,"v":-0.0231},{"s":"V","c":"r","x":635,"v":-0.0105},{"s":"V","c":"r","x":641,"v":0.0027},{"s":"V","c":"r","x":647,"v":0.0180},{"s":"V","c":"r","x":653,"v":-0.0089},{"s":"V","c":"r","x":659,"v":-0.0347},{"s":"V","c":"r","x":665,"v":-0.0621},{"s":"V","c":"r","x":671,"v":-0.0750},{"s":"V","c":"r","x":677,"v":-0.0569},{"s":"V","c":"r","x":683,"v":-0.0452},
{"s":"V","c":"r","x":725,"v":-0.0274},{"s":"V","c":"r","x":903,"v":-0.0250},{"s":"V","c":"r","x":909,"v":-0.0250},{"s":"V","c":"r","x":915,"v":-0.0258},{"s":"V","c":"r","x":921,"v":-0.0282},{"s":"V","c":"r","x":926,"v":-0.0306},{"s":"V","c":"r","x":932,"v":-0.0347},{"s":"V","c":"r","x":938,"v":-0.0379},{"s":"V","c":"r","x":944,"v":-0.0323},{"s":"V","c":"r","x":950,"v":-0.0210},{"s":"V","c":"r","x":956,"v":-0.0145},{"s":"V","c":"r","x":962,"v":-0.0153},{"s":"V","c":"r","x":967,"v":-0.0169},{"s":"V","c":"r","x":973,"v":-0.0210},{"s":"V","c":"r","x":979,"v":-0.0258},{"s":"V","c":"r","x":985,"v":-0.0290},{"s":"V","c":"r","x":991,"v":-0.0327},{"s":"V","c":"r","x":997,"v":-0.0347},{"s":"V","c":"r","x":1002,"v":-0.0355},{"s":"V","c":"r","x":1008,"v":-0.0360},{"s":"V","c":"r","x":1014,"v":-0.0363},{"s":"V","c":"r","x":1020,"v":-0.0363},{"s":"V","c":"r","x":1198,"v":-0.0314}
],
"mod":[
{"s":"I","c":"g","x":127,"v":0.737},{"s":"I","c":"g","x":153,"v":0.700},{"s":"I","c":"g","x":170,"v":0.668},{"s":"I","c":"g","x":187,"v":0.626},{"s":"I","c":"g","x":200,"v":0.582},{"s":"I","c":"g","x":210,"v":0.540},{"s":"I","c":"g","x":220,"v":0.485},{"s":"I","c":"g","x":227,"v":0.441},{"s":"I","c":"g","x":231,"v":0.400},{"s":"I","c":"g","x":235,"v":0.355},{"s":"I","c":"g","x":240,"v":0.287},{"s":"I","c":"g","x":247,"v":0.238},{"s":"I","c":"g","x":255,"v":0.226},{"s":"I","c":"g","x":263,"v":0.238},{"s":"I","c":"g","x":270,"v":0.293},{"s":"I","c":"g","x":278,"v":0.380},{"s":"I","c":"g","x":285,"v":0.420},{"s":"I","c":"g","x":293,"v":0.454},{"s":"I","c":"g","x":305,"v":0.500},{"s":"I","c":"g","x":320,"v":0.552},{"s":"I","c":"g","x":336,"v":0.600},{"s":"I","c":"g","x":353,"v":0.645},{"s":"I","c":"g","x":370,"v":0.690},{"s":"I","c":"g","x":387,"v":0.731},{"s":"I","c":"g","x":394,"v":0.873},{"s":"I","c":"g","x":420,"v":0.855},{"s":"I","c":"g","x":440,"v":0.811},{"s":"I","c":"g","x":453,"v":0.762},{"s":"I","c":"g","x":467,"v":0.663},{"s":"I","c":"g","x":477,"v":0.540},{"s":"I","c":"g","x":483,"v":0.429},{"s":"I","c":"g","x":488,"v":0.306},{"s":"I","c":"g","x":494,"v":0.238},{"s":"I","c":"g","x":500,"v":0.306},{"s":"I","c":"g","x":507,"v":0.441},{"s":"I","c":"g","x":517,"v":0.589},{"s":"I","c":"g","x":530,"v":0.712},{"s":"I","c":"g","x":540,"v":0.770},{"s":"I","c":"g","x":553,"v":0.811},{"s":"I","c":"g","x":565,"v":0.835},{"s":"I","c":"g","x":580,"v":0.855},{"s":"I","c":"g","x":595,"v":0.867},{"s":"I","c":"g","x":601,"v":0.920},{"s":"I","c":"g","x":641,"v":0.916},{"s":"I","c":"g","x":648,"v":0.861},{"s":"I","c":"g","x":654,"v":0.750},{"s":"I","c":"g","x":660,"v":0.602},{"s":"I","c":"g","x":666,"v":0.750},{"s":"I","c":"g","x":672,"v":0.848},{"s":"I","c":"g","x":683,"v":0.910},{"s":"I","c":"g","x":718,"v":0.920},{"s":"I","c":"g","x":725,"v":0.842},{"s":"I","c":"g","x":755,"v":0.828},{"s":"I","c":"g","x":785,"v":0.811},{"s":"I","c":"g","x":815,"v":0.782},{"s":"I","c":"g","x":843,"v":0.750},{"s":"I","c":"g","x":872,"v":0.710},{"s":"I","c":"g","x":901,"v":0.663},{"s":"I","c":"g","x":918,"v":0.622},{"s":"I","c":"g","x":932,"v":0.577},{"s":"I","c":"g","x":940,"v":0.540},{"s":"I","c":"g","x":948,"v":0.491},{"s":"I","c":"g","x":955,"v":0.452},{"s":"I","c":"g","x":962,"v":0.423},{"s":"I","c":"g","x":966,"v":0.455},{"s":"I","c":"g","x":971,"v":0.491},{"s":"I","c":"g","x":976,"v":0.525},{"s":"I","c":"g","x":983,"v":0.565},{"s":"I","c":"g","x":992,"v":0.598},{"s":"I","c":"g","x":1003,"v":0.626},{"s":"I","c":"g","x":1018,"v":0.655},{"s":"I","c":"g","x":1038,"v":0.688},{"s":"I","c":"g","x":1065,"v":0.725},{"s":"I","c":"g","x":1096,"v":0.762},{"s":"I","c":"g","x":1125,"v":0.788},{"s":"I","c":"g","x":1154,"v":0.811},{"s":"I","c":"g","x":1176,"v":0.828},{"s":"I","c":"g","x":1198,"v":0.842},
{"s":"I","c":"b","x":127,"v":0.158},{"s":"I","c":"b","x":170,"v":0.133},{"s":"I","c":"b","x":207,"v":0.108},{"s":"I","c":"b","x":230,"v":0.071},{"s":"I","c":"b","x":243,"v":0.041},{"s":"I","c":"b","x":257,"v":0.022},{"s":"I","c":"b","x":268,"v":0.041},{"s":"I","c":"b","x":283,"v":0.078},{"s":"I","c":"b","x":310,"v":0.111},{"s":"I","c":"b","x":353,"v":0.139},{"s":"I","c":"b","x":387,"v":0.158},{"s":"I","c":"b","x":393,"v":0.217},{"s":"I","c":"b","x":420,"v":0.195},{"s":"I","c":"b","x":447,"v":0.152},{"s":"I","c":"b","x":467,"v":0.115},{"s":"I","c":"b","x":480,"v":0.078},{"s":"I","c":"b","x":488,"v":0.041},{"s":"I","c":"b","x":494,"v":0.022},{"s":"I","c":"b","x":502,"v":0.047},{"s":"I","c":"b","x":512,"v":0.090},{"s":"I","c":"b","x":537,"v":0.145},{"s":"I","c":"b","x":570,"v":0.189},{"s":"I","c":"b","x":595,"v":0.217},{"s":"I","c":"b","x":601,"v":0.417},{"s":"I","c":"b","x":621,"v":0.407},{"s":"I","c":"b","x":633,"v":0.380},{"s":"I","c":"b","x":643,"v":0.318},{"s":"I","c":"b","x":652,"v":0.269},{"s":"I","c":"b","x":660,"v":0.253},{"s":"I","c":"b","x":668,"v":0.275},{"s":"I","c":"b","x":680,"v":0.343},{"s":"I","c":"b","x":691,"v":0.404},{"s":"I","c":"b","x":718,"v":0.419},{"s":"I","c":"b","x":725,"v":0.503},{"s":"I","c":"b","x":755,"v":0.492},{"s":"I","c":"b","x":785,"v":0.478},{"s":"I","c":"b","x":815,"v":0.456},{"s":"I","c":"b","x":843,"v":0.429},{"s":"I","c":"b","x":872,"v":0.395},{"s":"I","c":"b","x":901,"v":0.355},{"s":"I","c":"b","x":915,"v":0.320},{"s":"I","c":"b","x":929,"v":0.281},{"s":"I","c":"b","x":944,"v":0.219},{"s":"I","c":"b","x":956,"v":0.170},{"s":"I","c":"b","x":967,"v":0.158},{"s":"I","c":"b","x":979,"v":0.219},{"s":"I","c":"b","x":985,"v":0.262},{"s":"I","c":"b","x":991,"v":0.293},{"s":"I","c":"b","x":998,"v":0.322},{"s":"I","c":"b","x":1006,"v":0.343},{"s":"I","c":"b","x":1020,"v":0.368},{"s":"I","c":"b","x":1038,"v":0.392},{"s":"I","c":"b","x":1065,"v":0.422},{"s":"I","c":"b","x":1096,"v":0.448},{"s":"I","c":"b","x":1125,"v":0.468},{"s":"I","c":"b","x":1154,"v":0.485},{"s":"I","c":"b","x":1176,"v":0.495},{"s":"I","c":"b","x":1198,"v":0.503},
{"s":"I","c":"r","x":127,"v":-0.046},{"s":"I","c":"r","x":170,"v":-0.070},{"s":"I","c":"r","x":207,"v":-0.095},{"s":"I","c":"r","x":230,"v":-0.132},{"s":"I","c":"r","x":247,"v":-0.163},{"s":"I","c":"r","x":257,"v":-0.173},{"s":"I","c":"r","x":270,"v":-0.157},{"s":"I","c":"r","x":287,"v":-0.120},{"s":"I","c":"r","x":310,"v":-0.095},{"s":"I","c":"r","x":353,"v":-0.067},{"s":"I","c":"r","x":387,"v":-0.046},{"s":"I","c":"r","x":393,"v":0.016},{"s":"I","c":"r","x":420,"v":-0.005},{"s":"I","c":"r","x":447,"v":-0.052},{"s":"I","c":"r","x":467,"v":-0.089},{"s":"I","c":"r","x":480,"v":-0.126},{"s":"I","c":"r","x":490,"v":-0.163},{"s":"I","c":"r","x":494,"v":-0.175},{"s":"I","c":"r","x":503,"v":-0.144},{"s":"I","c":"r","x":513,"v":-0.107},{"s":"I","c":"r","x":537,"v":-0.058},{"s":"I","c":"r","x":570,"v":-0.015},{"s":"I","c":"r","x":595,"v":0.016},{"s":"I","c":"r","x":601,"v":0.256},{"s":"I","c":"r","x":613,"v":0.250},{"s":"I","c":"r","x":625,"v":0.232},{"s":"I","c":"r","x":635,"v":0.182},{"s":"I","c":"r","x":645,"v":0.121},{"s":"I","c":"r","x":654,"v":0.102},{"s":"I","c":"r","x":660,"v":0.108},{"s":"I","c":"r","x":666,"v":0.096},{"s":"I","c":"r","x":674,"v":0.127},{"s":"I","c":"r","x":683,"v":0.195},{"s":"I","c":"r","x":695,"v":0.242},{"s":"I","c":"r","x":718,"v":0.256},{"s":"I","c":"r","x":725,"v":0.300},{"s":"I","c":"r","x":755,"v":0.286},{"s":"I","c":"r","x":785,"v":0.269},{"s":"I","c":"r","x":815,"v":0.240},{"s":"I","c":"r","x":843,"v":0.207},{"s":"I","c":"r","x":872,"v":0.173},{"s":"I","c":"r","x":901,"v":0.139},{"s":"I","c":"r","x":921,"v":0.118},{"s":"I","c":"r","x":932,"v":0.133},{"s":"I","c":"r","x":940,"v":0.182},{"s":"I","c":"r","x":948,"v":0.213},{"s":"I","c":"r","x":958,"v":0.182},{"s":"I","c":"r","x":967,"v":0.158},{"s":"I","c":"r","x":979,"v":0.121},{"s":"I","c":"r","x":987,"v":0.102},{"s":"I","c":"r","x":1003,"v":0.115},{"s":"I","c":"r","x":1022,"v":0.145},{"s":"I","c":"r","x":1060,"v":0.187},{"s":"I","c":"r","x":1096,"v":0.226},{"s":"I","c":"r","x":1125,"v":0.252},{"s":"I","c":"r","x":1154,"v":0.275},{"s":"I","c":"r","x":1176,"v":0.288},{"s":"I","c":"r","x":1198,"v":0.297},

{"s":"Q","c":"g","x":127,"v":0.030},{"s":"Q","c":"g","x":230,"v":0.030},{"s":"Q","c":"g","x":238,"v":0.0309},{"s":"Q","c":"g","x":242,"v":0.0314},{"s":"Q","c":"g","x":248,"v":0.0300},{"s":"Q","c":"g","x":257,"v":0.0294},{"s":"Q","c":"g","x":263,"v":0.0300},{"s":"Q","c":"g","x":268,"v":0.0309},{"s":"Q","c":"g","x":274,"v":0.0300},{"s":"Q","c":"g","x":480,"v":0.0300},{"s":"Q","c":"g","x":494,"v":0.0309},{"s":"Q","c":"g","x":507,"v":0.0300},{"s":"Q","c":"g","x":636,"v":0.0300},{"s":"Q","c":"g","x":642,"v":0.0338},{"s":"Q","c":"g","x":647,"v":0.0467},{"s":"Q","c":"g","x":652,"v":0.0588},{"s":"Q","c":"g","x":655,"v":0.0667},{"s":"Q","c":"g","x":657,"v":0.0558},{"s":"Q","c":"g","x":660,"v":0.0414},{"s":"Q","c":"g","x":664,"v":0.0497},{"s":"Q","c":"g","x":666,"v":0.0550},{"s":"Q","c":"g","x":669,"v":0.0467},{"s":"Q","c":"g","x":674,"v":0.0338},{"s":"Q","c":"g","x":682,"v":0.0303},{"s":"Q","c":"g","x":700,"v":0.0300},{"s":"Q","c":"g","x":925,"v":0.0300},{"s":"Q","c":"g","x":938,"v":0.0288},{"s":"Q","c":"g","x":944,"v":0.0276},{"s":"Q","c":"g","x":950,"v":0.0302},{"s":"Q","c":"g","x":958,"v":0.0312},{"s":"Q","c":"g","x":969,"v":0.0310},{"s":"Q","c":"g","x":979,"v":0.0302},{"s":"Q","c":"g","x":990,"v":0.0300},{"s":"Q","c":"g","x":1198,"v":0.0300},
{"s":"Q","c":"b","x":127,"v":0.0},{"s":"Q","c":"b","x":230,"v":0.0},{"s":"Q","c":"b","x":240,"v":-0.0015},{"s":"Q","c":"b","x":250,"v":-0.0005},{"s":"Q","c":"b","x":257,"v":0.0004},{"s":"Q","c":"b","x":265,"v":-0.0005},{"s":"Q","c":"b","x":275,"v":-0.0018},{"s":"Q","c":"b","x":285,"v":-0.0005},{"s":"Q","c":"b","x":300,"v":0.0},{"s":"Q","c":"b","x":615,"v":0.0},{"s":"Q","c":"b","x":626,"v":-0.0011},{"s":"Q","c":"b","x":632,"v":-0.0033},{"s":"Q","c":"b","x":639,"v":-0.0079},{"s":"Q","c":"b","x":644,"v":-0.0109},{"s":"Q","c":"b","x":648,"v":-0.0121},{"s":"Q","c":"b","x":652,"v":-0.0048},{"s":"Q","c":"b","x":656,"v":0.0058},{"s":"Q","c":"b","x":660,"v":0.0167},{"s":"Q","c":"b","x":664,"v":0.0073},{"s":"Q","c":"b","x":668,"v":-0.0064},{"s":"Q","c":"b","x":672,"v":-0.0127},{"s":"Q","c":"b","x":677,"v":-0.0079},{"s":"Q","c":"b","x":683,"v":-0.0033},{"s":"Q","c":"b","x":690,"v":-0.0003},{"s":"Q","c":"b","x":700,"v":0.0},{"s":"Q","c":"b","x":920,"v":0.0},{"s":"Q","c":"b","x":938,"v":-0.0030},{"s":"Q","c":"b","x":950,"v":-0.0008},{"s":"Q","c":"b","x":960,"v":0.0004},{"s":"Q","c":"b","x":972,"v":-0.0010},{"s":"Q","c":"b","x":983,"v":-0.0024},{"s":"Q","c":"b","x":995,"v":-0.0010},{"s":"Q","c":"b","x":1010,"v":0.0},{"s":"Q","c":"b","x":1198,"v":0.0},
{"s":"Q","c":"r","x":127,"v":-0.030},{"s":"Q","c":"r","x":640,"v":-0.030},{"s":"Q","c":"r","x":655,"v":-0.0303},{"s":"Q","c":"r","x":665,"v":-0.0310},{"s":"Q","c":"r","x":675,"v":-0.0305},{"s":"Q","c":"r","x":690,"v":-0.030},{"s":"Q","c":"r","x":1198,"v":-0.030},

{"s":"U","c":"g","x":127,"v":0.030},{"s":"U","c":"g","x":225,"v":0.030},{"s":"U","c":"g","x":230,"v":0.0316},{"s":"U","c":"g","x":235,"v":0.0341},{"s":"U","c":"g","x":239,"v":0.0385},{"s":"U","c":"g","x":243,"v":0.0341},{"s":"U","c":"g","x":248,"v":0.0316},{"s":"U","c":"g","x":255,"v":0.0306},{"s":"U","c":"g","x":260,"v":0.0318},{"s":"U","c":"g","x":265,"v":0.0353},{"s":"U","c":"g","x":269,"v":0.0388},{"s":"U","c":"g","x":273,"v":0.0353},{"s":"U","c":"g","x":278,"v":0.0318},{"s":"U","c":"g","x":287,"v":0.0304},{"s":"U","c":"g","x":300,"v":0.030},{"s":"U","c":"g","x":470,"v":0.030},{"s":"U","c":"g","x":493,"v":0.0312},{"s":"U","c":"g","x":510,"v":0.030},{"s":"U","c":"g","x":636,"v":0.030},{"s":"U","c":"g","x":646,"v":0.0369},{"s":"U","c":"g","x":651,"v":0.0508},{"s":"U","c":"g","x":654,"v":0.0623},{"s":"U","c":"g","x":657,"v":0.0538},{"s":"U","c":"g","x":660,"v":0.0354},{"s":"U","c":"g","x":664,"v":0.0446},{"s":"U","c":"g","x":666,"v":0.0462},{"s":"U","c":"g","x":669,"v":0.0400},{"s":"U","c":"g","x":674,"v":0.0315},{"s":"U","c":"g","x":683,"v":0.030},{"s":"U","c":"g","x":925,"v":0.030},{"s":"U","c":"g","x":936,"v":0.0292},{"s":"U","c":"g","x":942,"v":0.0318},{"s":"U","c":"g","x":950,"v":0.0386},{"s":"U","c":"g","x":956,"v":0.0341},{"s":"U","c":"g","x":962,"v":0.0347},{"s":"U","c":"g","x":967,"v":0.0397},{"s":"U","c":"g","x":975,"v":0.0376},{"s":"U","c":"g","x":983,"v":0.0330},{"s":"U","c":"g","x":991,"v":0.0306},{"s":"U","c":"g","x":1002,"v":0.030},{"s":"U","c":"g","x":1198,"v":0.030},
{"s":"U","c":"b","x":127,"v":0.0},{"s":"U","c":"b","x":250,"v":0.0},{"s":"U","c":"b","x":258,"v":-0.0004},{"s":"U","c":"b","x":270,"v":0.0},{"s":"U","c":"b","x":640,"v":0.0},{"s":"U","c":"b","x":646,"v":-0.0015},{"s":"U","c":"b","x":652,"v":-0.0077},{"s":"U","c":"b","x":657,"v":-0.0123},{"s":"U","c":"b","x":660,"v":-0.0146},{"s":"U","c":"b","x":664,"v":-0.0092},{"s":"U","c":"b","x":667,"v":-0.0031},{"s":"U","c":"b","x":672,"v":0.0},{"s":"U","c":"b","x":1198,"v":0.0},
{"s":"U","c":"r","x":127,"v":-0.030},{"s":"U","c":"r","x":645,"v":-0.030},{"s":"U","c":"r","x":652,"v":-0.0315},{"s":"U","c":"r","x":659,"v":-0.0331},{"s":"U","c":"r","x":663,"v":-0.0315},{"s":"U","c":"r","x":667,"v":-0.0302},{"s":"U","c":"r","x":672,"v":-0.030},{"s":"U","c":"r","x":1198,"v":-0.030},

{"s":"V","c":"g","x":127,"v":0.0298},{"s":"V","c":"g","x":203,"v":0.0295},{"s":"V","c":"g","x":227,"v":0.0302},{"s":"V","c":"g","x":235,"v":0.0331},{"s":"V","c":"g","x":239,"v":0.0366},{"s":"V","c":"g","x":244,"v":0.0323},{"s":"V","c":"g","x":253,"v":0.0306},{"s":"V","c":"g","x":263,"v":0.0285},{"s":"V","c":"g","x":269,"v":0.0250},{"s":"V","c":"g","x":275,"v":0.0282},{"s":"V","c":"g","x":287,"v":0.0311},{"s":"V","c":"g","x":307,"v":0.0318},{"s":"V","c":"g","x":353,"v":0.0311},{"s":"V","c":"g","x":393,"v":0.0302},{"s":"V","c":"g","x":440,"v":0.0295},{"s":"V","c":"g","x":467,"v":0.0285},{"s":"V","c":"g","x":477,"v":0.0290},{"s":"V","c":"g","x":487,"v":0.0306},{"s":"V","c":"g","x":500,"v":0.0311},{"s":"V","c":"g","x":520,"v":0.0327},{"s":"V","c":"g","x":537,"v":0.0315},{"s":"V","c":"g","x":587,"v":0.0302},{"s":"V","c":"g","x":601,"v":0.0298},{"s":"V","c":"g","x":638,"v":0.0295},{"s":"V","c":"g","x":645,"v":0.0285},{"s":"V","c":"g","x":650,"v":0.0258},{"s":"V","c":"g","x":653,"v":0.0185},{"s":"V","c":"g","x":657,"v":0.0331},{"s":"V","c":"g","x":660,"v":0.0443},{"s":"V","c":"g","x":663,"v":0.0532},{"s":"V","c":"g","x":667,"v":0.0443},{"s":"V","c":"g","x":672,"v":0.0339},{"s":"V","c":"g","x":682,"v":0.0306},{"s":"V","c":"g","x":695,"v":0.0298},{"s":"V","c":"g","x":925,"v":0.0298},{"s":"V","c":"g","x":938,"v":0.0282},{"s":"V","c":"g","x":944,"v":0.0258},{"s":"V","c":"g","x":950,"v":0.0306},{"s":"V","c":"g","x":958,"v":0.0318},{"s":"V","c":"g","x":979,"v":0.0306},{"s":"V","c":"g","x":999,"v":0.0302},{"s":"V","c":"g","x":1198,"v":0.0298},
{"s":"V","c":"b","x":127,"v":0.0021},{"s":"V","c":"b","x":203,"v":0.0027},{"s":"V","c":"b","x":217,"v":0.0032},{"s":"V","c":"b","x":230,"v":0.0053},{"s":"V","c":"b","x":239,"v":0.0076},{"s":"V","c":"b","x":247,"v":0.0048},{"s":"V","c":"b","x":257,"v":0.0},{"s":"V","c":"b","x":267,"v":-0.0032},{"s":"V","c":"b","x":275,"v":-0.0065},{"s":"V","c":"b","x":283,"v":-0.0044},{"s":"V","c":"b","x":300,"v":-0.0024},{"s":"V","c":"b","x":353,"v":-0.0016},{"s":"V","c":"b","x":387,"v":-0.0005},{"s":"V","c":"b","x":393,"v":0.0016},{"s":"V","c":"b","x":440,"v":0.0021},{"s":"V","c":"b","x":473,"v":0.0032},{"s":"V","c":"b","x":483,"v":0.0048},{"s":"V","c":"b","x":488,"v":0.0024},{"s":"V","c":"b","x":497,"v":-0.0008},{"s":"V","c":"b","x":507,"v":-0.0040},{"s":"V","c":"b","x":520,"v":-0.0024},{"s":"V","c":"b","x":553,"v":-0.0016},{"s":"V","c":"b","x":593,"v":-0.0011},{"s":"V","c":"b","x":600,"v":0.0008},{"s":"V","c":"b","x":612,"v":0.0027},{"s":"V","c":"b","x":622,"v":0.0065},{"s":"V","c":"b","x":628,"v":0.0129},{"s":"V","c":"b","x":635,"v":0.0234},{"s":"V","c":"b","x":642,"v":0.0318},{"s":"V","c":"b","x":647,"v":0.0311},{"s":"V","c":"b","x":652,"v":0.0202},{"s":"V","c":"b","x":657,"v":0.0073},{"s":"V","c":"b","x":662,"v":-0.0056},{"s":"V","c":"b","x":668,"v":-0.0234},{"s":"V","c":"b","x":672,"v":-0.0347},{"s":"V","c":"b","x":677,"v":-0.0298},{"s":"V","c":"b","x":682,"v":-0.0185},{"s":"V","c":"b","x":688,"v":-0.0089},{"s":"V","c":"b","x":698,"v":-0.0040},{"s":"V","c":"b","x":712,"v":-0.0016},{"s":"V","c":"b","x":725,"v":0.0005},{"s":"V","c":"b","x":785,"v":0.0027},{"s":"V","c":"b","x":843,"v":0.0037},{"s":"V","c":"b","x":901,"v":0.0048},{"s":"V","c":"b","x":917,"v":0.0065},{"s":"V","c":"b","x":929,"v":0.0105},{"s":"V","c":"b","x":942,"v":0.0145},{"s":"V","c":"b","x":948,"v":0.0097},{"s":"V","c":"b","x":960,"v":-0.0008},{"s":"V","c":"b","x":971,"v":-0.0089},{"s":"V","c":"b","x":981,"v":-0.0153},{"s":"V","c":"b","x":991,"v":-0.0121},{"s":"V","c":"b","x":1002,"v":-0.0073},{"s":"V","c":"b","x":1018,"v":-0.0044},{"s":"V","c":"b","x":1096,"v":-0.0029},{"s":"V","c":"b","x":1198,"v":-0.0008},
{"s":"V","c":"r","x":127,"v":-0.0279},{"s":"V","c":"r","x":203,"v":-0.0266},{"s":"V","c":"r","x":220,"v":-0.0247},{"s":"V","c":"r","x":233,"v":-0.0198},{"s":"V","c":"r","x":238,"v":-0.0194},{"s":"V","c":"r","x":247,"v":-0.0242},{"s":"V","c":"r","x":257,"v":-0.0306},{"s":"V","c":"r","x":267,"v":-0.0355},{"s":"V","c":"r","x":275,"v":-0.0387},{"s":"V","c":"r","x":287,"v":-0.0355},{"s":"V","c":"r","x":300,"v":-0.0339},{"s":"V","c":"r","x":353,"v":-0.0323},{"s":"V","c":"r","x":387,"v":-0.0315},{"s":"V","c":"r","x":393,"v":-0.0279},{"s":"V","c":"r","x":440,"v":-0.0274},{"s":"V","c":"r","x":473,"v":-0.0250},{"s":"V","c":"r","x":480,"v":-0.0237},{"s":"V","c":"r","x":487,"v":-0.0282},{"s":"V","c":"r","x":497,"v":-0.0306},{"s":"V","c":"r","x":507,"v":-0.0347},{"s":"V","c":"r","x":520,"v":-0.0331},{"s":"V","c":"r","x":553,"v":-0.0327},{"s":"V","c":"r","x":593,"v":-0.0318},{"s":"V","c":"r","x":600,"v":-0.0290},{"s":"V","c":"r","x":612,"v":-0.0266},{"s":"V","c":"r","x":622,"v":-0.0226},{"s":"V","c":"r","x":628,"v":-0.0153},{"s":"V","c":"r","x":635,"v":0.0008},{"s":"V","c":"r","x":642,"v":0.0185},{"s":"V","c":"r","x":647,"v":0.0250},{"s":"V","c":"r","x":650,"v":0.0202},{"s":"V","c":"r","x":655,"v":-0.0040},{"s":"V","c":"r","x":660,"v":-0.0363},{"s":"V","c":"r","x":665,"v":-0.0653},{"s":"V","c":"r","x":672,"v":-0.0847},{"s":"V","c":"r","x":677,"v":-0.0734},{"s":"V","c":"r","x":682,"v":-0.0540},{"s":"V","c":"r","x":688,"v":-0.0411},{"s":"V","c":"r","x":698,"v":-0.0331},{"s":"V","c":"r","x":712,"v":-0.0290},{"s":"V","c":"r","x":725,"v":-0.0279},{"s":"V","c":"r","x":785,"v":-0.0266},{"s":"V","c":"r","x":843,"v":-0.0255},{"s":"V","c":"r","x":901,"v":-0.0242},{"s":"V","c":"r","x":917,"v":-0.0258},{"s":"V","c":"r","x":927,"v":-0.0298},{"s":"V","c":"r","x":934,"v":-0.0411},{"s":"V","c":"r","x":938,"v":-0.0492},{"s":"V","c":"r","x":944,"v":-0.0443},{"s":"V","c":"r","x":948,"v":-0.0153},{"s":"V","c":"r","x":956,"v":-0.0081},{"s":"V","c":"r","x":962,"v":-0.0153},{"s":"V","c":"r","x":967,"v":-0.0218},{"s":"V","c":"r","x":975,"v":-0.0194},{"s":"V","c":"r","x":987,"v":-0.0298},{"s":"V","c":"r","x":999,"v":-0.0347},{"s":"V","c":"r","x":1018,"v":-0.0363},{"s":"V","c":"r","x":1096,"v":-0.0347},{"s":"V","c":"r","x":1198,"v":-0.0314}
]
},
"vconcat":[
{
 "width":1071,"height":326,
 "resolve":{"axis":{"x":"independent","y":"independent"}},
 "layer":[
  {"data":{"name":"obs"},"transform":[{"filter":"datum.s==='I'"}],
   "mark":{"type":"circle","size":95,"opacity":0.7},
   "encoding":{
    "x":{"field":"x","type":"quantitative","scale":{"domain":[127,1198],"nice":false,"zero":false},"axis":{"orient":"bottom","values":[181,257,340,435,494,559,625,660,695,820,961,1103],"labels":false,"title":null}},
    "y":{"field":"v","type":"quantitative","scale":{"domain":[-0.232,0.974],"nice":false,"zero":false},"axis":{"orient":"left","values":[0,0.25,0.5,0.75],"format":".2f","labelPadding":17,"title":"I","titleFontSize":28,"titleFontStyle":"italic","titleX":-111,"titleY":163,"titleAlign":"center","titleBaseline":"middle","titleAngle":-90}},
    "color":{"field":"c","type":"nominal","scale":{"domain":["g","b","r"],"range":["#008000","#0000ff","#ff0000"]},"legend":null}}},
  {"data":{"name":"mod"},"transform":[{"filter":"datum.s==='I'"}],
   "mark":{"type":"line","strokeWidth":3.5},
   "encoding":{
    "x":{"field":"x","type":"quantitative","axis":{"orient":"top","values":[181,257,340,435,494,559,625,660,695,820,961,1103],"labels":false,"title":null}},
    "y":{"field":"v","type":"quantitative","axis":{"orient":"right","values":[0,0.25,0.5,0.75],"labels":false,"title":null}},
    "color":{"field":"c","type":"nominal","legend":null}}},
  {"data":{"values":[{"x":394},{"x":600.5},{"x":725}]},
   "mark":{"type":"rule","color":"#000000","strokeWidth":1.2,"strokeDash":[1.5,2.5]},
   "encoding":{"x":{"field":"x","type":"quantitative","axis":null}}},
  {"data":{"values":[{"x":257},{"x":494},{"x":659.5},{"x":961}]},
   "mark":{"type":"rule","color":"#0000ff","opacity":0.8,"strokeWidth":3.2,"strokeDash":[28,7,4.4,7]},
   "encoding":{"x":{"field":"x","type":"quantitative","axis":{"orient":"top","values":[261,498,663,965],"labelExpr":"['Mg I 517.3','Na I 589.6','Fe I 630.2','Ca II 854.2'][indexof([261,498,663,965], datum.value)]","ticks":false,"tickSize":0,"labelPadding":9,"labelFontSize":26,"labelAngle":0,"labelAlign":"center","labelBaseline":"alphabetic","title":null}}}}
 ]
},
{
 "width":1071,"height":326,
 "resolve":{"axis":{"x":"independent","y":"independent"}},
 "layer":[
  {"data":{"name":"obs"},"transform":[{"filter":"datum.s==='Q'"}],
   "mark":{"type":"circle","size":95,"opacity":0.7},
   "encoding":{
    "x":{"field":"x","type":"quantitative","scale":{"domain":[127,1198],"nice":false,"zero":false},"axis":{"orient":"bottom","values":[181,257,340,435,494,559,625,660,695,820,961,1103],"labels":false,"title":null}},
    "y":{"field":"v","type":"quantitative","scale":{"domain":[-0.0424,0.0726],"nice":false,"zero":false},"axis":{"orient":"left","values":[-0.04,-0.02,0,0.02,0.04,0.06],"format":".2f","labelPadding":17,"title":"Q","titleFontSize":28,"titleFontStyle":"italic","titleX":-111,"titleY":163,"titleAlign":"center","titleBaseline":"middle","titleAngle":-90}},
    "color":{"field":"c","type":"nominal","scale":{"domain":["g","b","r"],"range":["#008000","#0000ff","#ff0000"]},"legend":null}}},
  {"data":{"name":"mod"},"transform":[{"filter":"datum.s==='Q'"}],
   "mark":{"type":"line","strokeWidth":3.5},
   "encoding":{
    "x":{"field":"x","type":"quantitative","axis":{"orient":"top","values":[181,257,340,435,494,559,625,660,695,820,961,1103],"labels":false,"title":null}},
    "y":{"field":"v","type":"quantitative","axis":{"orient":"right","values":[-0.04,-0.02,0,0.02,0.04,0.06],"labels":false,"title":null}},
    "color":{"field":"c","type":"nominal","legend":null}}},
  {"data":{"values":[{"x":394},{"x":600.5},{"x":725}]},
   "mark":{"type":"rule","color":"#000000","strokeWidth":1.2,"strokeDash":[1.5,2.5]},
   "encoding":{"x":{"field":"x","type":"quantitative","axis":null}}},
  {"data":{"values":[{"x":257},{"x":494},{"x":659.5},{"x":961}]},
   "mark":{"type":"rule","color":"#0000ff","opacity":0.8,"strokeWidth":3.2,"strokeDash":[28,7,4.4,7]},
   "encoding":{"x":{"field":"x","type":"quantitative","axis":null}}}
 ]
},
{
 "width":1071,"height":326,
 "resolve":{"axis":{"x":"independent","y":"independent"}},
 "layer":[
  {"data":{"name":"obs"},"transform":[{"filter":"datum.s==='U'"}],
   "mark":{"type":"circle","size":95,"opacity":0.7},
   "encoding":{
    "x":{"field":"x","type":"quantitative","scale":{"domain":[127,1198],"nice":false,"zero":false},"axis":{"orient":"bottom","values":[181,257,340,435,494,559,625,660,695,820,961,1103],"labels":false,"title":null}},
    "y":{"field":"v","type":"quantitative","scale":{"domain":[-0.0469,0.0669],"nice":false,"zero":false},"axis":{"orient":"left","values":[-0.04,-0.02,0,0.02,0.04,0.06],"format":".2f","labelPadding":17,"title":"U","titleFontSize":28,"titleFontStyle":"italic","titleX":-111,"titleY":163,"titleAlign":"center","titleBaseline":"middle","titleAngle":-90}},
    "color":{"field":"c","type":"nominal","scale":{"domain":["g","b","r"],"range":["#008000","#0000ff","#ff0000"]},"legend":null}}},
  {"data":{"name":"mod"},"transform":[{"filter":"datum.s==='U'"}],
   "mark":{"type":"line","strokeWidth":3.5},
   "encoding":{
    "x":{"field":"x","type":"quantitative","axis":{"orient":"top","values":[181,257,340,435,494,559,625,660,695,820,961,1103],"labels":false,"title":null}},
    "y":{"field":"v","type":"quantitative","axis":{"orient":"right","values":[-0.04,-0.02,0,0.02,0.04,0.06],"labels":false,"title":null}},
    "color":{"field":"c","type":"nominal","legend":null}}},
  {"data":{"values":[{"x":394},{"x":600.5},{"x":725}]},
   "mark":{"type":"rule","color":"#000000","strokeWidth":1.2,"strokeDash":[1.5,2.5]},
   "encoding":{"x":{"field":"x","type":"quantitative","axis":null}}},
  {"data":{"values":[{"x":257},{"x":494},{"x":659.5},{"x":961}]},
   "mark":{"type":"rule","color":"#0000ff","opacity":0.8,"strokeWidth":3.2,"strokeDash":[28,7,4.4,7]},
   "encoding":{"x":{"field":"x","type":"quantitative","axis":null}}}
 ]
},
{
 "width":1071,"height":326,
 "resolve":{"axis":{"x":"independent","y":"independent"}},
 "layer":[
  {"data":{"name":"obs"},"transform":[{"filter":"datum.s==='V'"}],
   "mark":{"type":"circle","size":95,"opacity":0.7},
   "encoding":{
    "x":{"field":"x","type":"quantitative","scale":{"domain":[127,1198],"nice":false,"zero":false},"axis":{"orient":"bottom","values":[181,257,340,435,494,559,625,660,695,820,961,1103],"labelExpr":"['517.2','517.3','517.3','589.5','589.6','589.7','630.2','630.2','630.3','854.1','854.2','854.4'][indexof([181,257,340,435,494,559,625,660,695,820,961,1103], datum.value)]","labelAngle":-45,"labelAlign":"center","labelBaseline":"middle","labelPadding":45,"title":"Wavelength (nm)","titleX":535.5,"titleY":101,"titleAlign":"center","titleBaseline":"middle"}},
    "y":{"field":"v","type":"quantitative","scale":{"domain":[-0.092,0.0657],"nice":false,"zero":false},"axis":{"orient":"left","values":[-0.05,0,0.05],"format":".2f","labelPadding":17,"title":"V","titleFontSize":28,"titleFontStyle":"italic","titleX":-111,"titleY":163,"titleAlign":"center","titleBaseline":"middle","titleAngle":-90}},
    "color":{"field":"c","type":"nominal","scale":{"domain":["g","b","r"],"range":["#008000","#0000ff","#ff0000"]},"legend":null}}},
  {"data":{"name":"mod"},"transform":[{"filter":"datum.s==='V'"}],
   "mark":{"type":"line","strokeWidth":3.5},
   "encoding":{
    "x":{"field":"x","type":"quantitative","axis":{"orient":"top","values":[181,257,340,435,494,559,625,660,695,820,961,1103],"labels":false,"title":null}},
    "y":{"field":"v","type":"quantitative","axis":{"orient":"right","values":[-0.05,0,0.05],"labels":false,"title":null}},
    "color":{"field":"c","type":"nominal","legend":null}}},
  {"data":{"values":[{"x":394},{"x":600.5},{"x":725}]},
   "mark":{"type":"rule","color":"#000000","strokeWidth":1.2,"strokeDash":[1.5,2.5]},
   "encoding":{"x":{"field":"x","type":"quantitative","axis":null}}},
  {"data":{"values":[{"x":257},{"x":494},{"x":659.5},{"x":961}]},
   "mark":{"type":"rule","color":"#0000ff","opacity":0.8,"strokeWidth":3.2,"strokeDash":[28,7,4.4,7]},
   "encoding":{"x":{"field":"x","type":"quantitative","axis":null}}}
 ]
}
]
}
